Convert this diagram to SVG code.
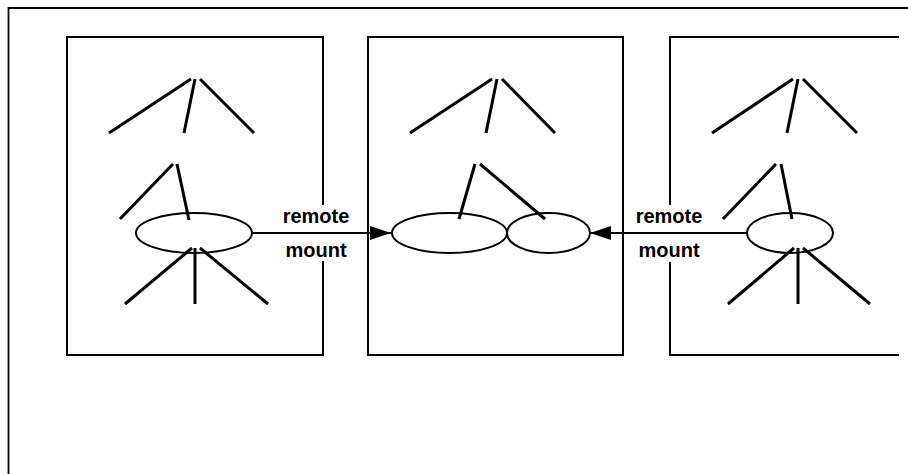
<svg xmlns="http://www.w3.org/2000/svg" width="908" height="474" viewBox="0 0 908 474">
  <style>
    .frame { fill: none; stroke: #000; stroke-width: 1.8; }
    .box { fill: none; stroke: #000; stroke-width: 2; }
    .tree { stroke: #000; stroke-width: 3; fill: none; }
    .disk { fill: none; stroke: #000; stroke-width: 2; }
    .conn { stroke: #000; stroke-width: 2; fill: none; }
    .lbl { font-family: "Liberation Sans", Arial, Helvetica, sans-serif; font-weight: bold; font-size: 20px; text-anchor: middle; fill: #000; }
  </style>
  <defs>
    <marker id="arrow" viewBox="0 0 21 14" refX="21" refY="7" markerWidth="21" markerHeight="14" markerUnits="userSpaceOnUse" orient="auto">
      <path d="M0,0 L21,7 L0,14 Z" fill="#000"/>
    </marker>
  </defs>
  <rect width="908" height="474" fill="#fff"/>

  <g id="frame">
    <path class="frame" d="M910,8 H8.5 V476"/>
  </g>

  <g id="host1">
    <rect class="box" x="67" y="37" width="256" height="318"/>
    <ellipse class="disk" cx="194" cy="233" rx="58" ry="20"/>
    <path class="tree" d="M109,133 L191,79 M184,133 L195,79 M200,79 L254,133"/>
    <path class="tree" d="M120,219 L173,164 M177,164 L189,220"/>
    <path class="tree" d="M125,304 L192,248 M195,248 L195,304 M200,248 L268,304"/>
  </g>

  <g id="host2">
    <rect class="box" x="368" y="37" width="255" height="318"/>
    <ellipse class="disk" cx="449.5" cy="233" rx="57.5" ry="20"/>
    <ellipse class="disk" cx="548.5" cy="233" rx="41.5" ry="20"/>
    <path class="tree" d="M410,133 L492,79 M486,133 L497,79 M502,79 L555,133"/>
    <path class="tree" d="M459,219 L475,164 M480,164 L545,219"/>
  </g>

  <g id="host3">
    <path class="box" d="M899,37 H670 V355 H899"/>
    <ellipse class="disk" cx="790" cy="233" rx="43" ry="20"/>
    <path class="tree" d="M712,133 L793,79 M787,133 L798,79 M803,79 L857,133"/>
    <path class="tree" d="M723,219 L776,164 M781,164 L792,219"/>
    <path class="tree" d="M728,304 L794,248 M798,248 L798,304 M803,248 L870,304"/>
  </g>

  <g id="connectors">
    <rect x="284" y="205" width="64" height="56" fill="#fff"/>
    <rect x="637" y="205" width="64" height="57" fill="#fff"/>
    <path class="conn" d="M252,233 H391" marker-end="url(#arrow)"/>
    <path class="conn" d="M747,233 H590" marker-end="url(#arrow)"/>
    <text class="lbl" x="316" y="223">remote</text>
    <text class="lbl" x="316" y="257">mount</text>
    <text class="lbl" x="669" y="223">remote</text>
    <text class="lbl" x="669" y="257">mount</text>
  </g>
</svg>
